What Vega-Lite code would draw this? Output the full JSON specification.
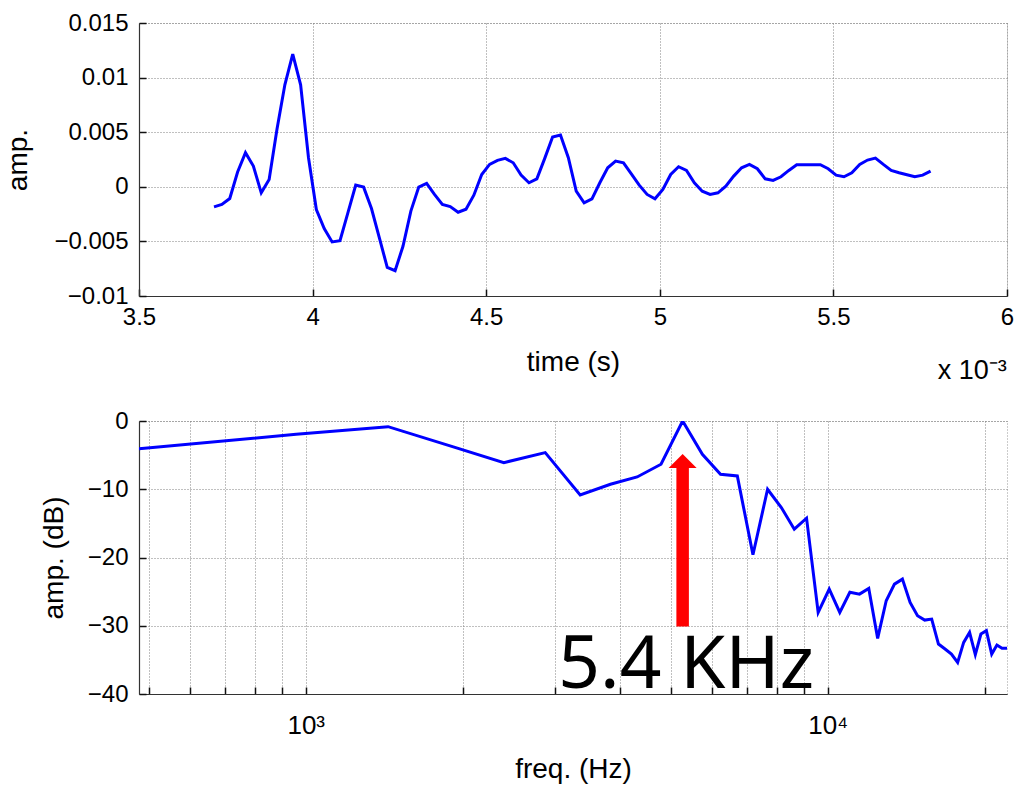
{
  "$schema": "https://vega.github.io/schema/vega-lite/v6.json",
  "background": "white",
  "padding": {"left": 4, "top": 10, "right": 0, "bottom": 0},
  "spacing": 125,
  "bounds": "flush",
  "datasets": {
    "wave": [
      {"t": 3.716, "amp": -0.00184}, {"t": 3.7387, "amp": -0.00162}, {"t": 3.7614, "amp": -0.00107}, {"t": 3.784, "amp": 0.00135},
      {"t": 3.8067, "amp": 0.00312}, {"t": 3.8294, "amp": 0.0019}, {"t": 3.8521, "amp": -0.00055}, {"t": 3.8748, "amp": 0.00067},
      {"t": 3.8974, "amp": 0.00527}, {"t": 3.9201, "amp": 0.00934}, {"t": 3.9428, "amp": 0.01215}, {"t": 3.9655, "amp": 0.00934},
      {"t": 3.9882, "amp": 0.00266}, {"t": 4.0108, "amp": -0.00208}, {"t": 4.0335, "amp": -0.00383}, {"t": 4.0562, "amp": -0.00505},
      {"t": 4.0789, "amp": -0.00493}, {"t": 4.1016, "amp": -0.00239}, {"t": 4.1242, "amp": 0.00015}, {"t": 4.1469, "amp": -0.00003},
      {"t": 4.1696, "amp": -0.00199}, {"t": 4.1923, "amp": -0.00468}, {"t": 4.215, "amp": -0.00738}, {"t": 4.2376, "amp": -0.00768},
      {"t": 4.2603, "amp": -0.00545}, {"t": 4.283, "amp": -0.00223}, {"t": 4.3057, "amp": -0.00003}, {"t": 4.3284, "amp": 0.00031},
      {"t": 4.351, "amp": -0.0007}, {"t": 4.3737, "amp": -0.00162}, {"t": 4.3964, "amp": -0.00181}, {"t": 4.4191, "amp": -0.00233},
      {"t": 4.4418, "amp": -0.00205}, {"t": 4.4644, "amp": -0.00077}, {"t": 4.4871, "amp": 0.00113}, {"t": 4.5098, "amp": 0.00205},
      {"t": 4.5325, "amp": 0.00242}, {"t": 4.5552, "amp": 0.0026}, {"t": 4.5778, "amp": 0.0022}, {"t": 4.6005, "amp": 0.00107},
      {"t": 4.6232, "amp": 0.00037}, {"t": 4.6459, "amp": 0.00073}, {"t": 4.6686, "amp": 0.0026}, {"t": 4.6912, "amp": 0.00456},
      {"t": 4.7139, "amp": 0.00474}, {"t": 4.7366, "amp": 0.00266}, {"t": 4.7593, "amp": -0.0004}, {"t": 4.782, "amp": -0.00147},
      {"t": 4.8046, "amp": -0.0011}, {"t": 4.8273, "amp": 0.00037}, {"t": 4.85, "amp": 0.00174}, {"t": 4.8727, "amp": 0.00236},
      {"t": 4.8954, "amp": 0.0022}, {"t": 4.918, "amp": 0.00119}, {"t": 4.9407, "amp": 0.00015}, {"t": 4.9634, "amp": -0.0007},
      {"t": 4.9861, "amp": -0.0011}, {"t": 5.0088, "amp": -0.00024}, {"t": 5.0314, "amp": 0.00113}, {"t": 5.0541, "amp": 0.00184},
      {"t": 5.0768, "amp": 0.0015}, {"t": 5.0995, "amp": 0.00037}, {"t": 5.1222, "amp": -0.0004}, {"t": 5.1448, "amp": -0.0007},
      {"t": 5.1675, "amp": -0.00055}, {"t": 5.1902, "amp": 0.00006}, {"t": 5.2129, "amp": 0.00098}, {"t": 5.2356, "amp": 0.00174},
      {"t": 5.2582, "amp": 0.00205}, {"t": 5.2809, "amp": 0.00165}, {"t": 5.3036, "amp": 0.00073}, {"t": 5.3263, "amp": 0.00058},
      {"t": 5.349, "amp": 0.00092}, {"t": 5.3716, "amp": 0.0015}, {"t": 5.3943, "amp": 0.00202}, {"t": 5.417, "amp": 0.00202},
      {"t": 5.4397, "amp": 0.00202}, {"t": 5.4624, "amp": 0.00202}, {"t": 5.485, "amp": 0.00165}, {"t": 5.5077, "amp": 0.00107},
      {"t": 5.5304, "amp": 0.00092}, {"t": 5.5531, "amp": 0.00129}, {"t": 5.5758, "amp": 0.00205}, {"t": 5.5984, "amp": 0.00245},
      {"t": 5.6211, "amp": 0.00263}, {"t": 5.6438, "amp": 0.00205}, {"t": 5.6665, "amp": 0.0015}, {"t": 5.6892, "amp": 0.00129},
      {"t": 5.7118, "amp": 0.0011}, {"t": 5.7345, "amp": 0.00092}, {"t": 5.7572, "amp": 0.00107}, {"t": 5.7799, "amp": 0.00144}
    ],
    "spectrum": [
      {"freq": 479.3, "db": -4.05}, {"freq": 958.7, "db": -1.95}, {"freq": 1438.0, "db": -0.83}, {"freq": 1917.4, "db": -3.8},
      {"freq": 2396.7, "db": -6.1}, {"freq": 2876.1, "db": -4.63}, {"freq": 3355.4, "db": -10.83}, {"freq": 3834.8, "db": -9.27},
      {"freq": 4314.1, "db": -8.2}, {"freq": 4793.5, "db": -6.34}, {"freq": 5272.8, "db": 0}, {"freq": 5752.2, "db": -4.88},
      {"freq": 6231.5, "db": -7.8}, {"freq": 6710.9, "db": -8.05}, {"freq": 7190.2, "db": -19.6}, {"freq": 7669.6, "db": -10.0},
      {"freq": 8148.9, "db": -12.68}, {"freq": 8628.3, "db": -15.85}, {"freq": 9107.6, "db": -14.24}, {"freq": 9587.0, "db": -28.05},
      {"freq": 10066.3, "db": -24.63}, {"freq": 10545.7, "db": -28.05}, {"freq": 11025.0, "db": -25.1}, {"freq": 11504.3, "db": -25.37},
      {"freq": 11983.7, "db": -24.54}, {"freq": 12463.0, "db": -31.85}, {"freq": 12942.4, "db": -26.34}, {"freq": 13421.7, "db": -23.9},
      {"freq": 13901.1, "db": -23.17}, {"freq": 14380.4, "db": -26.59}, {"freq": 14859.8, "db": -28.54}, {"freq": 15339.1, "db": -29.17},
      {"freq": 15818.5, "db": -29.02}, {"freq": 16297.8, "db": -32.68}, {"freq": 16777.2, "db": -33.4}, {"freq": 17256.5, "db": -34.15},
      {"freq": 17735.9, "db": -35.37}, {"freq": 18215.2, "db": -32.44}, {"freq": 18694.6, "db": -30.98}, {"freq": 19173.9, "db": -34.24},
      {"freq": 19653.3, "db": -31.22}, {"freq": 20132.6, "db": -30.73}, {"freq": 20612.0, "db": -34.15}, {"freq": 21091.3, "db": -32.83},
      {"freq": 21570.7, "db": -33.3}, {"freq": 22050.0, "db": -33.3}
    ],
    "note": [
      {"peak_freq": 5272.8, "arrow_from_db": -30.1, "arrow_to_db": -6.8, "head_db": -6.9, "label": "5.4 KHz", "label_freq": 5355, "label_db": -39.1}
    ]
  },
  "config": {
    "view": {"stroke": "#999", "strokeDash": [1, 2]},
    "axis": {
      "labelFont": "Liberation Sans",
      "labelFontSize": 24,
      "labelColor": "black",
      "titleFont": "Liberation Sans",
      "titleFontSize": 28,
      "titleFontWeight": "normal",
      "titleColor": "black",
      "domainColor": "#333",
      "domainWidth": 1.2,
      "tickColor": "#111",
      "tickWidth": 1.5,
      "tickSize": -7,
      "grid": true,
      "gridColor": "#808080",
      "gridDash": [1, 2],
      "gridWidth": 1,
      "gridOpacity": 1,
      "labelFlush": false,
      "labelOverlap": false
    }
  },
  "vconcat": [
    {
      "width": 868,
      "height": 273,
      "data": {"name": "wave"},
      "title": {
        "text": "x 10⁻³",
        "orient": "bottom",
        "anchor": "end",
        "offset": -18,
        "dx": -7,
        "font": "Liberation Sans",
        "fontSize": 27,
        "fontWeight": "normal",
        "color": "black"
      },
      "mark": {"type": "line", "color": "#0000FF", "strokeWidth": 3, "clip": true},
      "encoding": {
        "x": {
          "field": "t",
          "type": "quantitative",
          "scale": {"domain": [3.5, 6], "nice": false, "zero": false},
          "axis": {
            "title": "time (s)",
            "values": [3.5, 4, 4.5, 5, 5.5, 6],
            "format": ".2~f",
            "labelPadding": 16,
            "titlePadding": 19
          }
        },
        "y": {
          "field": "amp",
          "type": "quantitative",
          "scale": {"domain": [-0.01, 0.015], "nice": false, "zero": false},
          "axis": {
            "title": "amp.",
            "values": [-0.01, -0.005, 0, 0.005, 0.01, 0.015],
            "format": ".3~f",
            "labelPadding": 18,
            "titlePadding": 21
          }
        }
      }
    },
    {
      "width": 868,
      "height": 273,
      "layer": [
        {
          "data": {"name": "spectrum"},
          "mark": {"type": "line", "color": "#0000FF", "strokeWidth": 3, "clip": true},
          "encoding": {
            "x": {
              "field": "freq",
              "type": "quantitative",
              "scale": {"type": "log", "domain": [479.3, 22050], "nice": false},
              "axis": {
                "title": "freq. (Hz)",
                "values": [500, 600, 700, 800, 900, 1000, 2000, 3000, 4000, 5000, 6000, 7000, 8000, 9000, 10000, 20000],
                "labelExpr": "datum.value == 1000 ? '10³' : (datum.value == 10000 ? '10⁴' : '')",
                "labelFontSize": 26,
                "labelPadding": 25,
                "titlePadding": 17
              }
            },
            "y": {
              "field": "db",
              "type": "quantitative",
              "scale": {"domain": [-40, 0], "nice": false, "zero": false},
              "axis": {
                "title": "amp. (dB)",
                "values": [-40, -30, -20, -10, 0],
                "format": "d",
                "labelPadding": 18,
                "titlePadding": 19
              }
            }
          }
        },
        {
          "data": {"name": "note"},
          "mark": {"type": "rule", "color": "#FF0000", "strokeWidth": 12.5, "strokeCap": "butt"},
          "encoding": {
            "x": {"field": "peak_freq", "type": "quantitative"},
            "y": {"field": "arrow_from_db", "type": "quantitative"},
            "y2": {"field": "arrow_to_db"}
          }
        },
        {
          "data": {"name": "note"},
          "mark": {"type": "point", "shape": "M-1,0L1,0L0,-1Z", "filled": true, "color": "#FF0000", "opacity": 1, "size": 784, "strokeWidth": 0},
          "encoding": {
            "x": {"field": "peak_freq", "type": "quantitative"},
            "y": {"field": "head_db", "type": "quantitative"}
          }
        },
        {
          "data": {"name": "note"},
          "mark": {"type": "text", "font": "Noto Sans", "fontSize": 73, "color": "black", "align": "center", "baseline": "alphabetic"},
          "encoding": {
            "x": {"field": "label_freq", "type": "quantitative"},
            "y": {"field": "label_db", "type": "quantitative"},
            "text": {"field": "label"}
          }
        }
      ]
    }
  ]
}
